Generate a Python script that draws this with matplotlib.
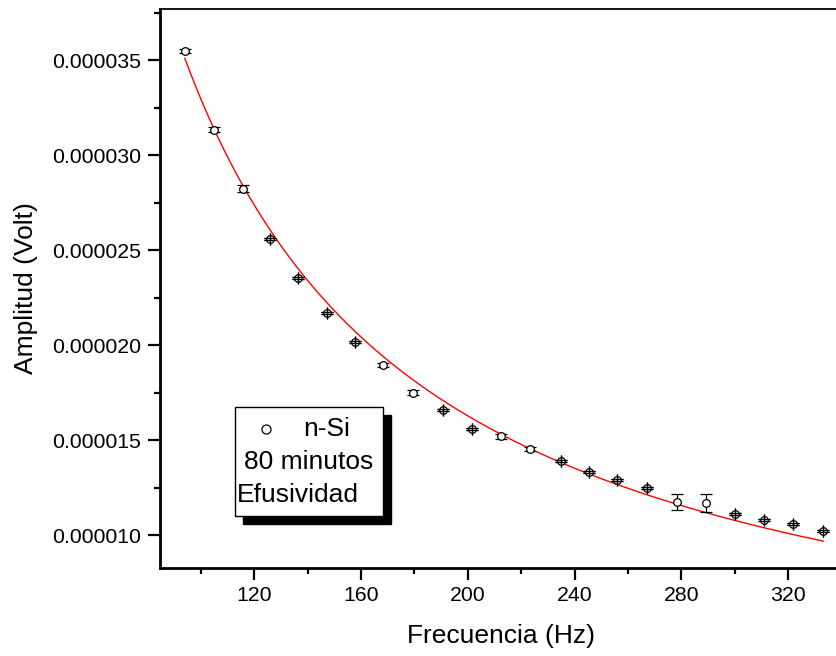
import numpy as np
import matplotlib
matplotlib.use("Agg")
import matplotlib.pyplot as plt
from matplotlib.patches import Rectangle
from matplotlib.ticker import MultipleLocator, FormatStrFormatter

plt.rcParams['font.family'] = ['Liberation Sans', 'DejaVu Sans']

# Measured amplitude vs. modulation frequency
frecuencia = [94.0, 105.0, 115.8, 126.0, 136.4, 147.2, 157.6, 168.3, 179.6,
              190.6, 201.6, 212.4, 223.3, 234.8, 245.5, 256.0, 267.1, 278.2,
              289.3, 300.0, 310.9, 321.9, 333.1]
amplitud = [3.547e-5, 3.133e-5, 2.823e-5, 2.559e-5, 2.353e-5, 2.168e-5,
            2.017e-5, 1.895e-5, 1.749e-5, 1.658e-5, 1.559e-5, 1.519e-5,
            1.451e-5, 1.388e-5, 1.332e-5, 1.288e-5, 1.246e-5, 1.174e-5,
            1.170e-5, 1.111e-5, 1.081e-5, 1.056e-5, 1.023e-5]
error = [0.11e-6, 0.14e-6, 0.18e-6, 0.06e-6, 0.06e-6, 0.05e-6, 0.05e-6,
         0.12e-6, 0.12e-6, 0.05e-6, 0.05e-6, 0.15e-6, 0.10e-6, 0.05e-6,
         0.06e-6, 0.05e-6, 0.05e-6, 0.42e-6, 0.47e-6, 0.05e-6, 0.05e-6,
         0.05e-6, 0.05e-6]

# Power-law fit  A * (f / f0) ** (-n)
fit_f0 = 94.0
fit_amp = 3.509e-5
fit_exp = 1.018

fig = plt.figure(figsize=(8.36, 6.56), dpi=100)
W, H = 836, 656
x0, x1 = 160, 841.7
y_top, y_bot = 9.3, 567.7
ax = fig.add_axes([x0 / W, 1 - y_bot / H, (x1 - x0) / W, (y_bot - y_top) / H])

f = np.array(frecuencia)
a = np.array(amplitud)
e = np.array(error)
ff = np.linspace(f.min(), f.max(), 300)
ax.plot(ff, fit_amp * (ff / fit_f0) ** (-fit_exp), color='red', lw=1.0, zorder=2)

ax.errorbar(f, a, yerr=e, fmt='o', ms=5.5, mfc='white',
            mec='black', mew=0.9, ecolor='black', elinewidth=0.9, capsize=4,
            capthick=0.9, zorder=3)

# very small bars: caps drawn over the open circles
small = e < 0.07e-6
ax.errorbar(f[small], a[small], yerr=e[small], xerr=np.zeros(small.sum()),
            fmt='none', ecolor='black', elinewidth=0.9, capsize=4,
            capthick=0.9, zorder=4)

ax.set_xlim(84.7, 340)
ax.set_ylim(8.28e-6, 3.767e-5)

ax.xaxis.set_major_locator(MultipleLocator(40))
ax.xaxis.set_minor_locator(MultipleLocator(20))
ax.yaxis.set_major_locator(MultipleLocator(5e-6))
ax.yaxis.set_minor_locator(MultipleLocator(2.5e-6))
ax.yaxis.set_major_formatter(FormatStrFormatter('%.6f'))

ax.tick_params(which='major', length=8.5, width=1.6, labelsize=15.3, pad=5)
ax.tick_params(which='minor', length=4.5, width=1.6)

ax.spines['right'].set_visible(False)
ax.spines['left'].set_linewidth(2)
ax.spines['bottom'].set_linewidth(2)
ax.spines['top'].set_linewidth(1.3)

ax.set_xlabel('Frecuencia (Hz)', fontsize=19, labelpad=13)
ax.set_ylabel('Amplitud (Volt)', fontsize=19, labelpad=10)

# Legend box with solid drop shadow
bx0, by0, bx1, by1 = 235, 407, 383, 516
sh = 8
fig.patches.append(Rectangle(((bx0 + sh) / W, 1 - (by1 + sh) / H), (bx1 - bx0) / W,
                             (by1 - by0) / H, transform=fig.transFigure,
                             facecolor='black', edgecolor='black', zorder=5))
fig.patches.append(Rectangle((bx0 / W, 1 - by1 / H), (bx1 - bx0) / W,
                             (by1 - by0) / H, transform=fig.transFigure,
                             facecolor='white', edgecolor='black', lw=1.0, zorder=6))
fig.lines.append(plt.Line2D([265.7 / W], [1 - 429 / H], marker='o', ms=6.5,
                            mfc='white', mec='black', mew=0.9,
                            transform=fig.transFigure, zorder=7))
fig.text(303 / W, 1 - 429 / H, 'n-Si', fontsize=19, va='center', ha='left', zorder=7)
fig.text(308.5 / W, 1 - 462 / H, '80 minutos', fontsize=19, va='center', ha='center', zorder=7)
fig.text(237 / W, 1 - 495 / H, 'Efusividad', fontsize=19, va='center', ha='left', zorder=7)

fig.savefig('out.png', dpi=100)
